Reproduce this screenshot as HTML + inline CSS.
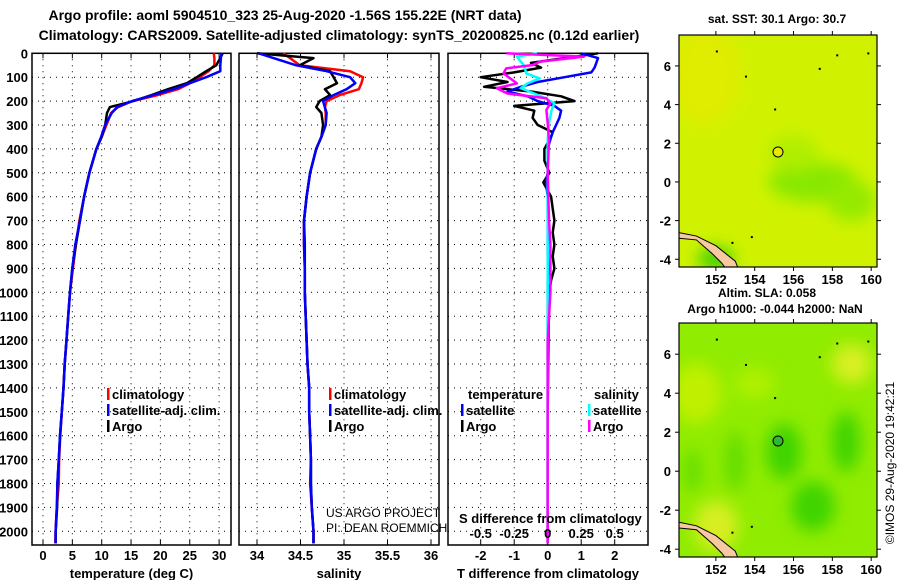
<!DOCTYPE html>
<html><head><meta charset="utf-8"><style>
html,body{margin:0;padding:0;background:#fff;}
svg{display:block;font-family:"Liberation Sans",sans-serif;font-weight:bold;}
</style></head><body>
<svg id="chart" width="900" height="580" viewBox="0 0 900 580" xmlns="http://www.w3.org/2000/svg">
<text x="285" y="20" font-size="14" text-anchor="middle">Argo profile: aoml 5904510_323 25-Aug-2020 -1.56S 155.22E (NRT data)</text>
<text x="339" y="40" font-size="14" text-anchor="middle">Climatology: CARS2009. Satellite-adjusted climatology: synTS_20200825.nc (0.12d earlier)</text>
<g id="g"></g>
</svg>
<script>
// ---- data ----
const depths=[0,20,50,75,100,125,150,175,200,225,250,300,350,400,500,600,700,800,900,1000,1100,1200,1300,1400,1500,1600,1700,1800,1900,2000,2050];
const tempClim=[29.1,29.2,29.2,28.2,26.7,25,23,19.5,15.2,12.8,11.6,10.8,10.0,9.1,7.9,7.0,6.2,5.6,5.1,4.6,4.3,4.0,3.7,3.5,3.2,2.95,2.75,2.7,2.35,2.15,2.1];
const tempSat=[30.4,30.3,30.2,30.2,27.8,25,22.3,18.8,15.2,12.6,11.7,10.6,9.9,9.1,7.9,7.0,6.3,5.5,5.0,4.6,4.3,4.0,3.7,3.5,3.2,2.9,2.7,2.45,2.35,2.15,2.15];
const tempArgo=[30.6,30.2,29.5,27.8,26.2,24.5,21.3,18.5,15.4,11.4,10.9,10.6,10.0,9.1,7.9,7.0,6.3,5.6,5.0,4.6,4.3,4.0,3.7,3.5,3.2,2.9,2.7,2.45,2.4,2.16,2.16];
const salClim=[34.30,34.38,34.49,35.07,35.22,35.20,35.17,34.95,34.80,34.78,34.79,34.79,34.74,34.68,34.61,34.57,34.54,34.54,34.55,34.55,34.56,34.57,34.58,34.60,34.60,34.61,34.62,34.61,34.63,34.65,34.65];
const salSat=[34.02,34.19,34.45,34.80,35.07,35.13,35.03,34.88,34.76,34.78,34.80,34.79,34.74,34.68,34.61,34.57,34.54,34.54,34.55,34.55,34.56,34.57,34.58,34.60,34.60,34.61,34.62,34.62,34.63,34.65,34.65];
const salArgo=[34.00,34.65,34.49,34.84,34.88,34.92,34.78,34.84,34.72,34.68,34.74,34.76,34.74,34.68,34.61,34.57,34.54,34.55,34.55,34.55,34.56,34.57,34.58,34.60,34.60,34.61,34.62,34.62,34.63,34.65,34.65];
const tdDepth=[0,20,40,60,80,100,120,140,160,180,200,220,240,270,300,330,350,400,450,500,540,600,650,700,750,800,850,900,950,1000,1200,1500,2050];
const tdArgo=[1.5,0.5,-0.5,-0.2,-1.0,-2.0,-1.2,-1.9,-0.5,0.4,0.8,-1.0,-0.4,-0.45,-0.3,0.15,0.1,-0.1,-0.1,0.05,-0.13,0.1,0.15,0.2,0.15,0.2,0.15,0.2,0.1,0.05,0.02,0,0];
const tdSat=[1.0,1.5,1.45,1.4,1.3,0.5,-0.3,-0.8,-1.2,-0.6,-0.3,0.2,0.4,0.35,0.25,0.15,0.1,0,0,0,-0.05,0,0,0,0,0,0,0.02,0,0,0,0,0];
const sdDepth=[0,14,35,49,63,84,105,126,146,168,188,209,237,293,363,500,700,800,900,1000,1200,2050];
const sdArgo=[-0.31,0.27,-0.06,-0.11,-0.31,-0.33,-0.28,-0.23,-0.38,-0.30,-0.01,0.02,-0.01,0,0.01,0,0.01,0.02,0.02,0.02,0,0];
const sdSat=[-0.08,-0.23,-0.2,-0.18,-0.17,-0.16,-0.06,-0.15,-0.2,-0.1,-0.02,0.05,0.03,0.01,0,0,0,0,0,0,0,0];
const depthTicks=[0,100,200,300,400,500,600,700,800,900,1000,1100,1200,1300,1400,1500,1600,1700,1800,1900,2000];
const tTicks=[0,5,10,15,20,25,30];
const sTicks=[34,34.5,35,35.5,36];
const sTickLabels=["34","34.5","35","35.5","36"];
const tdTicks=[-2,-1,0,1,2];
const sdTicks=[-0.5,-0.25,0,0.25,0.5];
const sdTickLabels=["-0.5","-0.25","0","0.25","0.5"];
const latTicks=[6,4,2,0,-2,-4];
const lonTicks=[152,154,156,158,160];
const argoLon=155.2, argoLat=1.55;

// ---- scales ----
const yD=d=>53.3+d*0.239;
const xT=t=>43+t*5.87;
const xS=s=>257+(s-34)*87;
const xTD=v=>547.7+v*33.5;
const xSD=v=>547.7+v*134;
const NS="http://www.w3.org/2000/svg";
const G=document.getElementById('g');
function el(tag,attrs,parent){const e=document.createElementNS(NS,tag);for(const k in attrs)e.setAttribute(k,attrs[k]);(parent||G).appendChild(e);return e;}
function txt(x,y,s,size,anchor,parent,weight){const e=el('text',{x:x,y:y,'font-size':size,'text-anchor':anchor||'start'},parent);if(weight)e.setAttribute('font-weight',weight);e.textContent=s;return e;}
const PT=53.3, PB=545;

function panel(name,x0,x1,vx,ticks,labels,title){
  const g=el('g',{});
  
  
  depthTicks.forEach(d=>{const l=el('line',{x1:x0,x2:x1,y1:yD(d),y2:yD(d),stroke:'#000','stroke-width':1,'stroke-dasharray':'1,5'},g);
    });
  ticks.forEach((t,i)=>{const x=vx(t);
    const l=el('line',{x1:x,x2:x,y1:PT,y2:PB,stroke:'#000','stroke-width':1,'stroke-dasharray':'1,5'},g);
    
    el('line',{x1:x,x2:x,y1:PT,y2:PT+5,stroke:'#000'},g);el('line',{x1:x,x2:x,y1:PB,y2:PB-5,stroke:'#000'},g);
    if(labels){const t2=txt(x,560,labels[i],13,'middle',g);}
  });
  const r=el('rect',{x:x0,y:PT,width:x1-x0,height:PB-PT,fill:'none',stroke:'#000','stroke-width':1.5},g);
  
  if(title){const t=txt((x0+x1)/2,578,title,13,'middle',g);}
  return g;
}
function line(xs,ds,vx,color,w,name,parent){
  const pts=xs.map((v,i)=>vx(v).toFixed(1)+','+yD(ds[i]).toFixed(1)).join(' ');
  const p=el('polyline',{points:pts,fill:'none',stroke:color,'stroke-width':w,'stroke-linejoin':'round'},parent);
  
}
// panel 1
const p1=panel('temperature-panel',32,231,xT,tTicks,tTicks.map(String),'temperature (deg C)');
depthTicks.forEach(d=>{const t=txt(28,yD(d)+5,String(d),13,'end',p1);});
line(tempClim,depths,xT,'#f00',2.5,'temp-climatology-line',p1);
line(tempArgo,depths,xT,'#000',2.5,'temp-argo-line',p1);
line(tempSat,depths,xT,'#00f',2.5,'temp-satellite-line',p1);
// panel 2
const p2=panel('salinity-panel',239,439,xS,sTicks,sTickLabels,'salinity');
line(salClim,depths,xS,'#f00',2.5,'sal-climatology-line',p2);
line(salArgo,depths,xS,'#000',2.5,'sal-argo-line',p2);
line(salSat,depths,xS,'#00f',2.5,'sal-satellite-line',p2);
// panel 3
const p3=panel('difference-panel',448,648,xTD,tdTicks,tdTicks.map(String),'T difference from climatology');
line(tdArgo,tdDepth,xTD,'#000',2.5,'tdiff-argo-line',p3);
line(tdSat,tdDepth,xTD,'#00f',2.5,'tdiff-satellite-line',p3);
line(sdSat,sdDepth,xSD,'#0ff',2.5,'sdiff-satellite-line',p3);
line(sdArgo,sdDepth,xSD,'#f0f',2.5,'sdiff-argo-line',p3);
sdTicks.forEach((v,i)=>{const t=txt(xSD(v),538,sdTickLabels[i],13,'middle',p3);});
{const t=txt(459,523,'S difference from climatology',13,'start',p3);}

// legends
function legend(x,y,color,label,parent){
  const r=el('rect',{x:x,y:y-11,width:2.5,height:12,fill:color},parent);
  
  const t=txt(x+5,y,label,13,'start',parent);
}
legend(107,399,'#f00','climatology',p1);legend(107,415,'#00f','satellite-adj. clim.',p1);legend(107,431,'#000','Argo',p1);
legend(329,399,'#f00','climatology',p2);legend(329,415,'#00f','satellite-adj. clim.',p2);legend(329,431,'#000','Argo',p2);
{const t=txt(468,399,'temperature',13,'start',p3);}
{const t=txt(594,399,'salinity',13,'start',p3);}
legend(461,415,'#00f','satellite',p3);legend(461,431,'#000','Argo',p3);
legend(588,415,'#0ff','satellite',p3);legend(588,431,'#f0f','Argo',p3);
{const t=txt(326,517,'US ARGO PROJECT',12,'start',p2,'normal');}
{const t=txt(326,532,'PI: DEAN ROEMMICH',12,'start',p2,'normal');}

// maps
function map(name,top,bottom,base,patches,circleFill){
  const x0=679,x1=877;
  const latTop=7.6,latBot=-4.4;
  const yL=l=>top+(latTop-l)*(bottom-top)/(latTop-latBot);
  const xL=l=>x0+(l-150.1)*(x1-x0)/(160.3-150.1);
  const g=el('g',{});
  const cid='c'+name;
  const cp=el('clipPath',{id:cid},g);el('rect',{x:x0,y:top,width:x1-x0,height:bottom-top},cp);
  const f=el('filter',{id:'f'+name,x:'-50%',y:'-50%',width:'200%',height:'200%'},g);el('feGaussianBlur',{stdDeviation:8},f);
  const inner=el('g',{'clip-path':'url(#'+cid+')'},g);
  el('rect',{x:x0,y:top,width:x1-x0,height:bottom-top,fill:base},inner);
  const pg=el('g',{filter:'url(#f'+name+')'},inner);
  patches.forEach(p=>el('ellipse',{cx:xL(p[0]),cy:yL(p[1]),rx:p[2],ry:p[3],fill:p[4]},pg));
  // coastline
  el('polygon',{points:[[150,-2.6],[151,-2.8],[152,-3.3],[153,-4.1],[153.2,-4.6],[152.6,-4.6],[152.3,-4.2],[151.8,-3.7],[151,-3.0],[150,-2.9]].map(p=>xL(p[0])+','+yL(p[1])).join(' '),fill:'#f8c8a0',stroke:'#000','stroke-width':1},inner);
  [[152,6.8],[153.5,5.5],[158.2,6.6],[155,3.8],[153.8,-2.8],[152.8,-3.1],[157.3,5.9],[159.8,6.7]].forEach(p=>el('rect',{x:xL(p[0]),y:yL(p[1]),width:2,height:2,fill:'#000'},inner));
  const c=el('circle',{cx:xL(argoLon),cy:yL(argoLat),r:5,fill:circleFill,stroke:'#000','stroke-width':1},g);
  
  el('rect',{x:x0,y:top,width:x1-x0,height:bottom-top,fill:'none',stroke:'#000','stroke-width':1.2},g);
  latTicks.forEach(l=>{const y=yL(l);el('line',{x1:x0,x2:x0-4,y1:y,y2:y,stroke:'#000'},g);el('line',{x1:x1,x2:x1+4,y1:y,y2:y,stroke:'#000'},g);
    const t=txt(x0-8,y+5,String(l),13,'end',g);});
  lonTicks.forEach(l=>{const x=xL(l);el('line',{x1:x,x2:x,y1:bottom,y2:bottom+4,stroke:'#000'},g);el('line',{x1:x,x2:x,y1:top,y2:top-4,stroke:'#000'},g);
    const t=txt(x,bottom+17,String(l),13,'middle',g);});
  return g;
}
map('sst-map',35,267,'#d0f200',[[151.5,5.5,35,50,'#e0ec00'],[157,0,45,20,'#88e800'],[159,-1,25,20,'#94ea00'],[152,-4,18,12,'#40d000'],[156,1.5,25,18,'#b0ee00']],'#e8e800');
map('sla-map',323,557,'#90ec00',[[152,-2.8,22,25,'#d8ee20'],[151,4,25,30,'#c0f000'],[159,5.5,20,20,'#d8f020'],[155.5,1,18,28,'#40d400'],[158.7,1.5,14,30,'#40d400'],[157,-1.8,22,25,'#40d400'],[153,0.5,10,30,'#60dc00'],[150.8,0,8,22,'#60dc00'],[154,4.5,20,15,'#b0f000']],'#30b830');
{const t=txt(777,23,'sat. SST: 30.1 Argo: 30.7',12,'middle');}
{const t=txt(767,297,'Altim. SLA: 0.058',12,'middle');}
{const t=txt(775,313,'Argo h1000: -0.044 h2000: NaN',12,'middle');}
{const t=txt(0,0,'©IMOS 29-Aug-2020 19:42:21',12,'middle',null,'normal');t.setAttribute('transform','translate(894,463) rotate(-90)');}
</script>
</body></html>
